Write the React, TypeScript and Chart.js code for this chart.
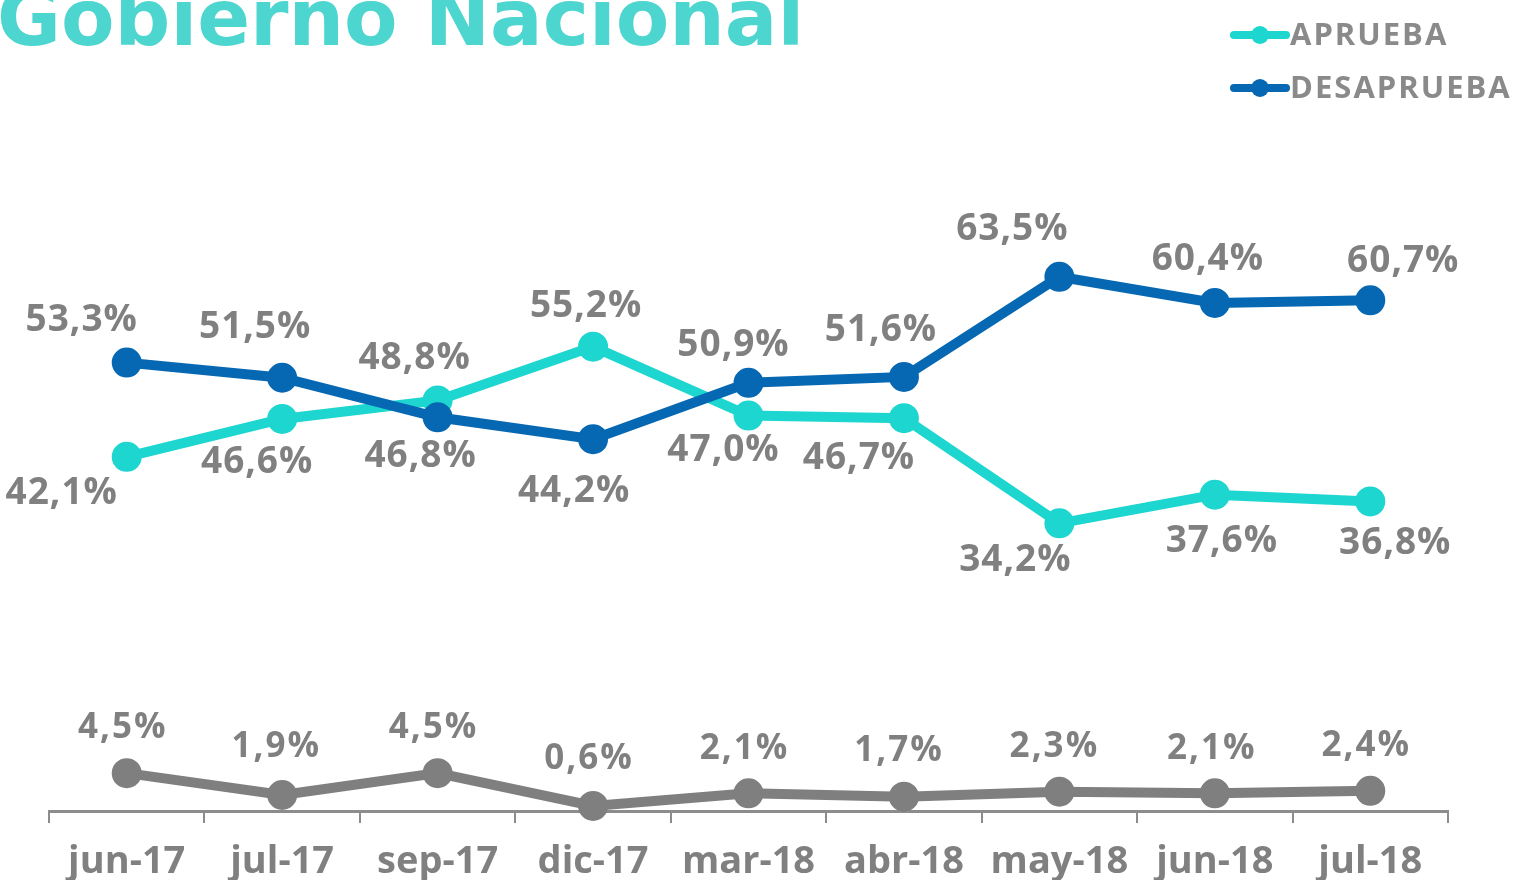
import React, { useEffect, useRef } from "react";
import { Chart, registerables } from "chart.js";

Chart.register(...registerables);

const TITLE = "Gobierno Nacional";
const categories = ["jun-17", "jul-17", "sep-17", "dic-17", "mar-18", "abr-18", "may-18", "jun-18", "jul-18"];
const aprueba = [42.1, 46.6, 48.8, 55.2, 47.0, 46.7, 34.2, 37.6, 36.8];
const desaprueba = [53.3, 51.5, 46.8, 44.2, 50.9, 51.6, 63.5, 60.4, 60.7];
const nsnc = [4.5, 1.9, 4.5, 0.6, 2.1, 1.7, 2.3, 2.1, 2.4];

// label offsets relative to each point (layout only)
const apruebaLabelOffsets = [[-65, 37], [-25, 43], [-23, -42], [-7, -40], [-25, 35], [-45, 40], [-44, 37], [7, 47], [25, 42]];
const desapruebaLabelOffsets = [[-45, -42], [-27, -50], [-17, 39], [-19, 52], [-15, -37], [-23, -46], [-47, -47], [-7, -43], [33, -39]];
const nsncLabelOffsets = [[-4, -45], [-6, -48], [-4, -45], [-4, -47], [-4, -44], [-5, -46], [-5, -45], [-3, -44], [-4, -45]];

const TEAL = "#1dd6cf";
const BLUE = "#0668b3";
const GRAY = "#7f7f7f";
const LABEL_GRAY = "#808080";

const fmt = (v: number) => v.toFixed(1).replace(".", ",") + "%";

export default function App() {
  const ref = useRef<HTMLCanvasElement | null>(null);

  useEffect(() => {
    if (!ref.current) return;
    const offsets = [apruebaLabelOffsets, desapruebaLabelOffsets, nsncLabelOffsets];

    const decorPlugin = {
      id: "decor",
      beforeDraw(chart: any) {
        const ctx = chart.ctx;
        ctx.save();
        ctx.fillStyle = "#4dd5cf";
        ctx.font = 'bold 78px "DejaVu Sans"';
        ctx.textBaseline = "alphabetic";
        ctx.textAlign = "left";
        ctx.fillText(TITLE, -3, 45);
        ctx.restore();
      },
      afterDatasetsDraw(chart: any) {
        const ctx = chart.ctx;
        ctx.save();
        ctx.textAlign = "center";
        ctx.textBaseline = "middle";
        ctx.fillStyle = LABEL_GRAY;
        chart.data.datasets.forEach((ds: any, di: number) => {
          const meta = chart.getDatasetMeta(di);
          ctx.font = di === 2 ? 'bold 35px "Open Sans"' : 'bold 37px "Open Sans"';
          (ctx as any).letterSpacing = di === 2 ? "2px" : "1px";
          meta.data.forEach((pt: any, i: number) => {
            const [dx, dy] = offsets[di][i];
            ctx.fillText(fmt(ds.data[i]), pt.x + dx, pt.y + dy);
          });
        });
        // legend (first two series)
        const legendRows = [35, 88];
        [0, 1].forEach((di) => {
          const ds = chart.data.datasets[di];
          const y = legendRows[di];
          ctx.strokeStyle = ds.borderColor;
          ctx.lineWidth = 8;
          ctx.lineCap = "round";
          ctx.beginPath();
          ctx.moveTo(1234, y);
          ctx.lineTo(1286, y);
          ctx.stroke();
          ctx.fillStyle = ds.borderColor;
          ctx.beginPath();
          ctx.arc(1260, y, 9, 0, Math.PI * 2);
          ctx.fill();
          ctx.fillStyle = "#8a8a8a";
          ctx.font = 'bold 31px "Open Sans"';
          (ctx as any).letterSpacing = "2px";
          ctx.textAlign = "left";
          ctx.textBaseline = "middle";
          ctx.fillText(ds.label, 1290, y + 1);
        });
        ctx.restore();
      },
    };

    const mk = (label: string, data: number[], color: string, order: number) => ({
      label,
      data,
      borderColor: color,
      backgroundColor: color,
      pointBackgroundColor: color,
      pointBorderColor: color,
      borderWidth: 10,
      pointRadius: 10,
      pointHoverRadius: 10,
      tension: 0,
      clip: false as any,
      order,
    });

    const chart = new Chart(ref.current, {
      type: "line",
      data: {
        labels: categories,
        datasets: [
          mk("APRUEBA", aprueba, TEAL, 1),
          mk("DESAPRUEBA", desaprueba, BLUE, 0),
          mk("NS/NC", nsnc, GRAY, 2),
        ],
      },
      options: {
        animation: false,
        responsive: false,
        layout: { padding: { left: 49, right: 87, top: 138, bottom: -21 } },
        plugins: {
          legend: { display: false },
          tooltip: { enabled: false },
          title: { display: false },
        },
        scales: {
          y: { display: false, min: 0, max: 80 },
          x: {
            offset: true,
            grid: {
              display: true,
              drawOnChartArea: false,
              drawTicks: true,
              tickLength: 12,
              color: "#8c8c8c",
              lineWidth: 2,
              offset: true,
            },
            border: { display: true, color: "#8c8c8c", width: 3 },
            ticks: {
              color: LABEL_GRAY,
              padding: 20,
              font: { family: '"Open Sans"', size: 38, weight: "bold", lineHeight: 1.0 },
              maxRotation: 0,
              autoSkip: false,
            },
          },
        },
      },
      plugins: [decorPlugin],
    });
    return () => chart.destroy();
  }, []);

  return (
    <div style={{ position: "fixed", left: 0, top: 0, width: 1535, height: 880, background: "#fff" }}>
      <canvas ref={ref} width={1535} height={880} />
    </div>
  );
}
